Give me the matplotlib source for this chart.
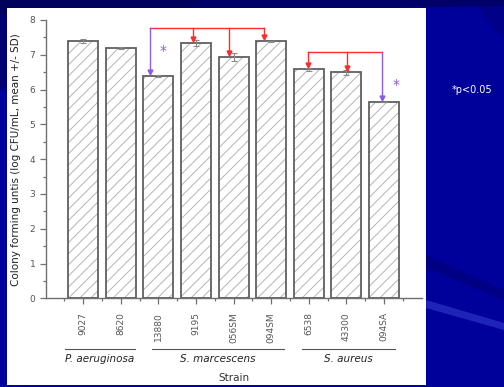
import matplotlib.pyplot as plt
import matplotlib.transforms as mtransforms
from matplotlib.patches import Rectangle, Polygon

strains = ["9027", "8620", "13880", "9195", "056SM", "094SM", "6538", "43300", "094SA"]
cfu_mean = [7.39, 7.20, 6.39, 7.33, 6.93, 7.39, 6.58, 6.50, 5.64]
cfu_sd = [0.05, 0.02, 0.03, 0.09, 0.12, 0.01, 0.04, 0.07, 0.01]
species = ["P. aeruginosa", "S. marcescens", "S. aureus"]
species_span = [(0.51, 2.38), (2.83, 6.33), (6.83, 9.29)]

# significance brackets: reference strain index -> compared strain indices
brackets = [(2, [3, 4, 5], 7.78), (8, [6, 7], 7.07)]
arrow_shift = {2: -0.22, 3: -0.07, 4: -0.13, 5: -0.2, 6: -0.02, 7: 0.03, 8: -0.04}

RED = "#ff2a2a"
PURPLE = "#8a5ce6"

fig = plt.figure(figsize=(5.04, 3.87), dpi=100)
fig.patch.set_facecolor("#00009a")


def fig_poly(pts, color, alpha):
    fig.patches.append(Polygon([(px / 504, 1 - py / 387) for px, py in pts], closed=True,
                               transform=fig.transFigure, facecolor=color, alpha=alpha,
                               edgecolor="none", zorder=-2))


# slide background: darker top band and a few streaks
fig_poly([(0, 0), (504, 0), (504, 6), (0, 14)], "#000055", 0.7)
fig_poly([(0, 0), (200, 0), (0, 90)], "#000055", 0.6)
fig_poly([(426, 255), (504, 290), (504, 300), (426, 268)], "#000060", 0.35)
fig_poly([(426, 300), (504, 323), (504, 330), (426, 308)], "#6a7aff", 0.3)
fig_poly([(470, 0), (504, 0), (504, 40)], "#000070", 0.4)

fig.patches.append(Rectangle((7 / 504, 1 - 385 / 387), 419 / 504, 377 / 387,
                             transform=fig.transFigure, facecolor="white", edgecolor="none",
                             zorder=-1))

ax = fig.add_axes([45.7 / 504, 1 - 298.3 / 387, 375.8 / 504, 278.3 / 387])
ax.set_facecolor("white")

x = list(range(1, len(strains) + 1))
plt.rcParams["hatch.linewidth"] = 0.7
ax.bar(x, cfu_mean, width=0.8, color="white", edgecolor="#b4b4b4", hatch="///", linewidth=0, zorder=2)
ax.bar(x, cfu_mean, width=0.8, fill=False, edgecolor="#606060", linewidth=1.3, zorder=3)
ax.errorbar(x, cfu_mean, yerr=cfu_sd, fmt="none", ecolor="#8a8a8a", elinewidth=0.8,
            capsize=2.5, capthick=0.8, zorder=4)

for ref, targets, top in brackets:
    xs = [i + 1 + arrow_shift[i] for i in [ref] + targets]
    ax.plot([min(xs), max(xs)], [top, top], color=RED, lw=1.0, zorder=5)
    for i in [ref] + targets:
        color = PURPLE if i == ref else RED
        xi = i + 1 + arrow_shift[i]
        tip = cfu_mean[i] + 0.07
        ax.plot([xi, xi], [top, tip + 0.1], color=color, lw=1.0, zorder=5)
        ax.plot(xi, tip + 0.05, marker="v", color=color, markersize=3.5, zorder=6)

ax.text(3.13, 7.1, "*", color=PURPLE, fontsize=10, ha="center", va="center")
ax.text(9.33, 6.14, "*", color=PURPLE, fontsize=10, ha="center", va="center")

ax.set_xlim(0, 10)
ax.set_ylim(0, 8)
for side in ("top", "right"):
    ax.spines[side].set_visible(False)
for side in ("left", "bottom"):
    ax.spines[side].set_color("#707070")
    ax.spines[side].set_linewidth(1.0)

ax.set_yticks(range(0, 9))
ax.set_yticks([v + 0.5 for v in range(8)], minor=True)
ax.set_xticks(x)
ax.set_xticks([v + 0.5 for v in range(10)], minor=True)
ax.set_xticklabels(strains, rotation=90, fontsize=6.5, color="#555555")
ax.tick_params(axis="y", labelsize=6.5, labelcolor="#555555")
ax.tick_params(axis="x", pad=6)
ax.tick_params(which="major", direction="out", length=4, color="#707070", width=0.9)
ax.tick_params(which="minor", direction="out", length=2, color="#707070", width=0.9)

blend = mtransforms.blended_transform_factory(ax.transData, ax.transAxes)
for name, (x0, x1) in zip(species, species_span):
    ax.plot([x0, x1], [-0.182, -0.182], color="#555555", lw=0.8, transform=blend, clip_on=False)
    ax.text((x0 + x1) / 2, -0.218, name, transform=blend, ha="center", va="center",
            fontsize=7.5, style="italic", color="#222222")
ax.text(0.5, -0.285, "Strain", transform=ax.transAxes, ha="center", va="center",
        fontsize=7.5, color="#333333")
ax.set_ylabel("Colony forming untis (log CFU/mL, mean +/- SD)", fontsize=7.5, color="#222222",
              labelpad=6)

fig.text(452 / 504, 1 - 90 / 387, "*p<0.05", color="white", fontsize=7, va="center")

fig.savefig("out.png", dpi=100, facecolor=fig.get_facecolor())
